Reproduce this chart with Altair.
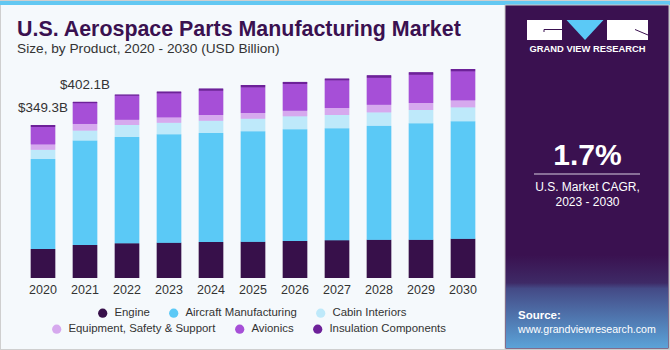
import altair as alt
import pandas as pd

years = ["2020", "2021", "2022", "2023", "2024", "2025", "2026", "2027", "2028", "2029", "2030"]
products = ["Engine", "Aircraft Manufacturing", "Cabin Interiors",
            "Equipment, Safety & Support", "Avionics", "Insulation Components"]
colors = ["#37104a", "#5bc9f6", "#bee9fa", "#d6a9ee", "#a64fd7", "#6d2199"]

engine = [66.2, 75.3, 79.1, 80.7, 82.2, 83.0, 84.5, 86.0, 87.5, 87.5, 89.8]
aircraft = [205.4, 238.6, 242.8, 247.3, 248.8, 251.9, 255.0, 255.7, 260.3, 265.6, 267.9]
cabin = [21.3, 22.8, 27.4, 26.6, 28.2, 28.9, 29.7, 30.4, 30.4, 30.4, 32.0]
equipment = [12.2, 15.2, 12.2, 12.2, 12.9, 12.9, 12.9, 16.0, 17.5, 16.0, 16.0]
avionics = [39.6, 47.2, 54.8, 54.8, 55.6, 58.6, 60.9, 63.2, 61.6, 64.7, 66.2]
insulation = [4.6, 3.0, 2.3, 3.8, 4.6, 5.3, 4.6, 3.8, 5.3, 5.3, 5.3]

label_years = ["2020", "2021"]
label_values = [349.3, 402.1]
label_texts = ["$349.3B", "$402.1B"]

series = [engine, aircraft, cabin, equipment, avionics, insulation]
rows = []
for i, (p, vals) in enumerate(zip(products, series)):
    for y, v in zip(years, vals):
        rows.append({"year": y, "product": p, "product2": p, "value": v, "idx": i})
df = pd.DataFrame(rows)

FONT = "Liberation Sans"
W, H = 462, 219
PL, PT = 22, 59

xenc = alt.X("year:N", sort=years,
             scale=alt.Scale(paddingInner=0.42, paddingOuter=0.21),
             axis=alt.Axis(title=None, labelAngle=0, domain=False, ticks=False,
                           labelPadding=5, labelFontSize=12.5, labelColor="#333333",
                           labelFont=FONT, zindex=2))
yenc = alt.Y("value:Q", stack="zero", scale=alt.Scale(domain=[0, 500]), axis=None)

base = alt.Chart(df)
bars1 = base.mark_bar().encode(
    x=xenc, y=yenc,
    color=alt.Color("product:N", sort=products,
                    scale=alt.Scale(domain=products, range=colors),
                    legend=alt.Legend(title=None, values=products[:3], orient="none",
                                      legendX=75, legendY=248, direction="horizontal",
                                      columns=3, zindex=2)),
    order=alt.Order("idx:Q", sort="ascending"),
)
bars2 = base.mark_bar().encode(
    x=xenc, y=yenc,
    fill=alt.Fill("product2:N", sort=products,
                  scale=alt.Scale(domain=products, range=colors),
                  legend=alt.Legend(title=None, values=products[3:], orient="none",
                                    legendX=29, legendY=264, direction="horizontal",
                                    columns=3, zindex=2)),
    order=alt.Order("idx:Q", sort="ascending"),
)

ldf = pd.DataFrame({"year": label_years, "value": label_values, "text": label_texts})
labels = alt.Chart(ldf).mark_text(baseline="bottom", dy=-10, fontSize=13.4,
                                  color="#333333", font=FONT).encode(
    x=alt.X("year:N", sort=years), y=alt.Y("value:Q"), text="text:N")

one = pd.DataFrame({"a": [0]})


def rect(x1, x2, y1, y2, **kw):
    return alt.Chart(one).mark_rect(**kw).encode(
        x=alt.value(x1 - PL), x2=alt.value(x2 - PL),
        y=alt.value(y1 - PT), y2=alt.value(y2 - PT))


def txt(s, x, y, **kw):
    return alt.Chart(one).mark_text(text=s, font=FONT, **kw).encode(
        x=alt.value(x - PL), y=alt.value(y - PT))


def rule(x1, y1, x2, y2, color, width=1):
    return alt.Chart(one).mark_rule(color=color, strokeWidth=width).encode(
        x=alt.value(x1 - PL), x2=alt.value(x2 - PL),
        y=alt.value(y1 - PT), y2=alt.value(y2 - PT))


grad = alt.LinearGradient(gradient="linear", x1=0, y1=0, x2=0, y2=1, stops=[
    alt.GradientStop(offset=0, color="#3a1150"),
    alt.GradientStop(offset=0.3, color="#3e2a66"),
    alt.GradientStop(offset=0.36, color="#444a86"),
    alt.GradientStop(offset=1, color="#5ba3d8"),
])

deco = [
    rect(0, 670, 0, 350, fill="#f5f9fc", stroke="#cfcfcf", strokeWidth=2),
    rect(0, 670, 1, 5, color="#63c8f2"),
    rect(505, 669, 5, 349, color="#3a1150", stroke="#c9c9c9", strokeWidth=1),
    rect(506, 668, 255, 348, color=grad),
    # logo
    rect(527, 562, 20, 40, color="#ffffff"),
    rect(607, 648, 20, 40, color="#ffffff"),
    rule(544, 29.5, 562, 29.5, "#3a1150"),
    rule(544, 29.5, 544, 32, "#3a1150"),
    rule(635, 29.5, 648, 35, "#3a1150"),
    alt.Chart(one).mark_point(shape="M-1,-0.54L1,-0.54L0,0.54Z", filled=True, opacity=1,
                              color="#5bc9f6", size=1369).encode(
        x=alt.value(585 - PL), y=alt.value(30 - PT)),
    txt("GRAND VIEW RESEARCH", 587.5, 48.7, fontSize=9.4, fontWeight="bold",
        color="#ffffff", align="center", baseline="middle"),
    txt("1.7%", 587.5, 165, fontSize=30, fontWeight="bold", color="#ffffff",
        align="center", baseline="alphabetic"),
    rule(534, 174, 640, 174, "#d8d0e0", 1.2),
    txt("U.S. Market CAGR,", 587.5, 187, fontSize=12, color="#ffffff",
        align="center", baseline="middle"),
    txt("2023 - 2030", 587.5, 202, fontSize=12, color="#ffffff",
        align="center", baseline="middle"),
    txt("Source:", 518, 316, fontSize=11.5, fontWeight="bold", color="#ffffff",
        align="left", baseline="middle"),
    txt("www.grandviewresearch.com", 518, 330, fontSize=10.6, color="#ffffff",
        align="left", baseline="middle"),
    # titles
    txt("U.S. Aerospace Parts Manufacturing Market", 17, 36, fontSize=21.4,
        fontWeight="bold", color="#3a1150", align="left", baseline="alphabetic"),
    txt("Size, by Product, 2020 - 2030 (USD Billion)", 17, 53, fontSize=13.7,
        color="#333333", align="left", baseline="alphabetic"),
]

chart = alt.layer(*deco, bars1, bars2, labels).properties(
    width=W, height=H,
    autosize=alt.AutoSizeParams(type="none"),
    padding={"left": PL, "top": PT, "right": 670 - PL - W, "bottom": 350 - PT - H},
    background="#f5f9fc",
).resolve_legend(color="independent", fill="independent").configure_view(
    stroke=None).configure_legend(
    symbolType="circle", symbolSize=85, symbolStrokeWidth=0,
    labelFont=FONT, labelFontSize=11.4, labelColor="#333333",
    columnPadding=18, labelOffset=6, padding=0,
)

chart.save("out.html", embed_options={"renderer": "svg", "actions": False})
